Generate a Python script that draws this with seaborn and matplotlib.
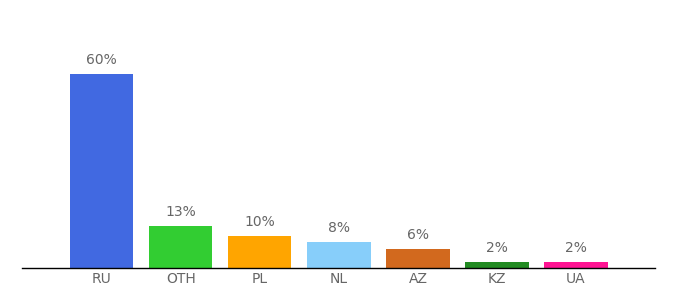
import matplotlib
matplotlib.use("Agg")
import matplotlib.pyplot as plt
import seaborn as sns
import pandas as pd

categories = ["RU", "OTH", "PL", "NL", "AZ", "KZ", "UA"]
values = [60, 13, 10, 8, 6, 2, 2]
labels = ["60%", "13%", "10%", "8%", "6%", "2%", "2%"]
colors = ["#4169E1", "#32CD32", "#FFA500", "#87CEFA", "#D2691E", "#228B22", "#FF1493"]

sns.set_theme(style="white")
plt.rcParams['font.family'] = ['DejaVu Sans']

df = pd.DataFrame({"country": categories, "value": values})

fig = plt.figure(figsize=(6.8, 3.0), dpi=100)
# axes: x from 22 to 655 px, bottom at 268 px, top at 20 px
ax = fig.add_axes([22 / 680, 1 - 268 / 300, (655 - 22) / 680, (268 - 20) / 300])

sns.barplot(data=df, x="country", y="value", hue="country", palette=colors,
            legend=False, width=0.8, saturation=1, linewidth=0, ax=ax)

ymax = 248 / (194 / 60)
ax.set_ylim(0, ymax)
ax.set_xlim(-1.01, 7.0)

for i, (v, lab) in enumerate(zip(values, labels)):
    ax.annotate(lab, (i, v), xytext=(0, 5), textcoords="offset points",
                ha="center", va="bottom", fontsize=10, color="#666666")

for s in ["top", "right", "left"]:
    ax.spines[s].set_visible(False)
ax.spines["bottom"].set_color("#000000")
ax.spines["bottom"].set_linewidth(1)
ax.set_yticks([])
ax.set_xlabel("")
ax.set_ylabel("")
ax.tick_params(axis="x", length=0, pad=3, labelsize=10, labelcolor="#666666")

fig.savefig("out.png", dpi=100)
